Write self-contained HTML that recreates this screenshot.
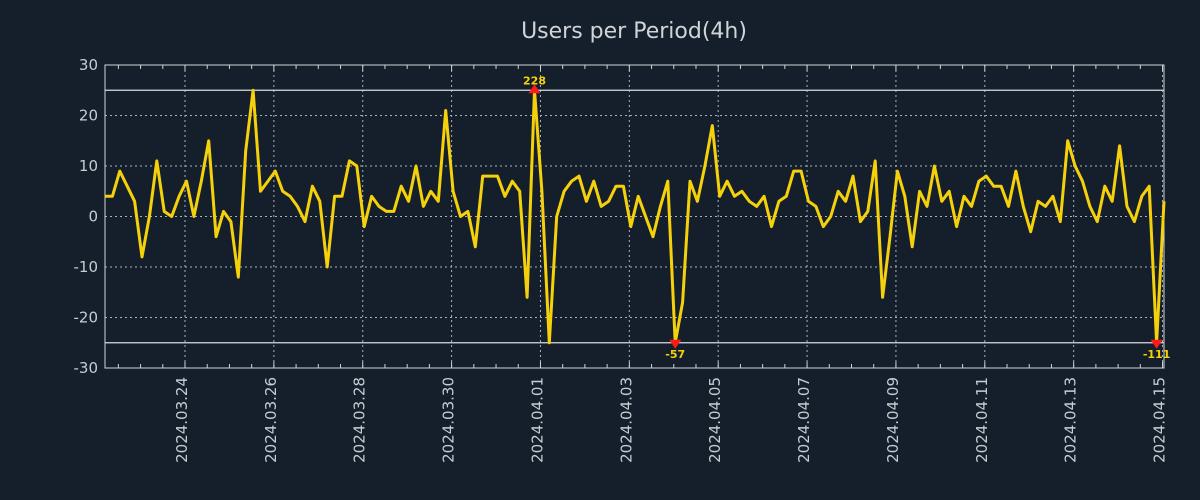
<!DOCTYPE html>
<html><head><meta charset="utf-8">
<style>
html,body{margin:0;padding:0;background:#151f2c;}
svg{display:block;font-family:"DejaVu Sans","Liberation Sans",sans-serif;}
</style></head>
<body>
<svg id="chart" width="1200" height="500" viewBox="0 0 1200 500">
<rect x="0" y="0" width="1200" height="500" fill="#151f2c"/>
<text x="634" y="38" text-anchor="middle" font-size="22" fill="#d0d4d9">Users per Period(4h)</text>
<g id="grid"></g>
<g id="axes"></g>
<g id="series"></g>
<g id="annot"></g>
</svg>
<script>
const values = [4,4,9,6,3,-8,0,11,1,0,
4,7,0,7,15,-4,1,-1,-12,13,
25,5,7,9,5,4,2,-1,6,3,
-10,4,4,11,10,-2,4,2,1,1,
6,3,10,2,5,3,21,5,0,1,
-6,8,8,8,4,7,5,-16,228,5,
-25,0,5,7,8,3,7,2,3,6,
6,-2,4,0,-4,2,7,-57,-17,7,
3,10,18,4,7,4,5,3,2,4,
-2,3,4,9,9,3,2,-2,0,5,
3,8,-1,1,11,-16,-4,9,4,-6,
5,2,10,3,5,-2,4,2,7,8,
6,6,2,9,2,-3,3,2,4,-1,
15,10,7,2,-1,6,3,14,2,-1,
4,6,-111,3];
const yTicks = [30,20,10,0,-10,-20,-30];
const dateLabels = ["2024.03.24","2024.03.26","2024.03.28","2024.03.30","2024.04.01","2024.04.03","2024.04.05","2024.04.07","2024.04.09","2024.04.11","2024.04.13","2024.04.15"];
const clipMax = 25, clipMin = -25;
const annotIdx = [58,77,142];

const NS="http://www.w3.org/2000/svg";
const L=105,R=1164,T=65,B=368;
const step=(R-L)/(values.length-1);
const x=i=>L+i*step;
const y=v=>T+(30-v)*(B-T)/60;
const firstDayIdx=(185-L)/step;
const dayX=d=>x(firstDayIdx+d*6);
function mk(tag,attrs,parent){const e=document.createElementNS(NS,tag);for(const k in attrs)e.setAttribute(k,attrs[k]);parent.appendChild(e);return e;}
const grid=document.getElementById('grid'),axes=document.getElementById('axes'),series=document.getElementById('series'),annot=document.getElementById('annot');

yTicks.forEach(v=>{
  if(v!==30&&v!==-30){
    const g=mk('line',{x1:L,x2:R,y1:y(v),y2:y(v),stroke:'#aab0b8','stroke-width':1,'stroke-dasharray':'2,3'},grid);
    
    
  }
  const t=mk('text',{x:L-7,y:y(v)+5,'text-anchor':'end','font-size':15,fill:'#c8ccd2'},axes);
  t.textContent=v;
  
  
});
dateLabels.forEach((d,k)=>{
  const xx=dayX(k*2);
  const g=mk('line',{x1:xx,x2:xx,y1:T,y2:B,stroke:'#aab0b8','stroke-width':1,'stroke-dasharray':'2,3'},grid);
  
  
  const t=mk('text',{x:0,y:0,'text-anchor':'end','font-size':15,fill:'#c8ccd2',transform:`translate(${xx+2},377) rotate(-90)`},axes);
  t.textContent=d;
  
  
});
for(let d=-2;d<=23;d+=0.5){
  const xx=dayX(d); if(xx<L||xx>R)continue;
  const len=(Math.round(d*2)%4===0)?6:4;
  mk('line',{x1:xx,x2:xx,y1:T,y2:T+len,stroke:'#d0d4d9','stroke-width':1},axes);
  mk('line',{x1:xx,x2:xx,y1:B,y2:B-len,stroke:'#d0d4d9','stroke-width':1},axes);
}
[clipMax,clipMin].forEach(v=>{
  const l=mk('line',{x1:L,x2:R,y1:y(v),y2:y(v),stroke:'#d8dce0','stroke-width':1.2},axes);
  
  
});
const fr=mk('rect',{x:L,y:T,width:R-L,height:B-T,fill:'none',stroke:'#d0d4d9','stroke-width':1},axes);



const pts=values.map((v,i)=>x(i).toFixed(1)+','+y(Math.max(clipMin,Math.min(clipMax,v))).toFixed(1)).join(' ');
const pl=mk('polyline',{points:pts,fill:'none',stroke:'#f5d10c','stroke-width':3,'stroke-linejoin':'round'},series);



annotIdx.forEach(i=>{
  const v=values[i];const xx=x(i);
  const up=v>clipMax;
  const yy=y(up?clipMax:clipMin);
  const tri=mk('polygon',{points:up?`${xx-6},${yy+3} ${xx+6},${yy+3} ${xx},${yy-6}`:`${xx-6},${yy-3} ${xx+6},${yy-3} ${xx},${yy+6}`,fill:'#ff1a1a'},annot);
  
  
  const t=mk('text',{x:xx,y:up?yy-6:yy+15,'text-anchor':'middle','font-size':11,'font-weight':'bold',fill:'#f5d10c'},annot);
  t.textContent=v;
  
  
});
</script>
</body></html>
